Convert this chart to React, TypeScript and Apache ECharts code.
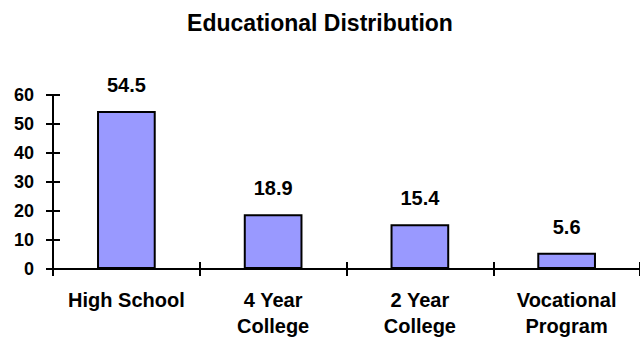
import React, { useEffect, useRef } from "react";
import * as echarts from "echarts";

const categories = ["High School", "4 Year\nCollege", "2 Year\nCollege", "Vocational\nProgram"];
const values = [54.5, 18.9, 15.4, 5.6];
const yTicks = { min: 0, max: 60, interval: 10 };
const titleText = "Educational Distribution";

const FONT = "'Liberation Sans', Arial, Helvetica, sans-serif";

export default function App() {
  const ref = useRef<HTMLDivElement>(null);
  useEffect(() => {
    if (!ref.current) return;
    const chart = echarts.init(ref.current, undefined, { renderer: "svg" });
    const axisLineStyle = { color: "#000", width: 2 };
    chart.setOption({
      animation: false,
      backgroundColor: "#fff",
      title: {
        text: titleText,
        left: "center",
        top: 6,
        textStyle: { fontFamily: FONT, fontWeight: "bold", fontSize: 23, color: "#000" },
      },
      grid: { left: 53, right: -2, top: 95, bottom: 70, containLabel: false },
      xAxis: [
        {
          type: "category",
          data: categories,
          position: "bottom",
          axisLine: { lineStyle: axisLineStyle },
          axisTick: { show: true, length: 7, lineStyle: axisLineStyle, alignWithLabel: false },
          axisLabel: {
            interval: 0,
            margin: 18,
            fontFamily: FONT,
            fontWeight: "bold",
            fontSize: 20,
            lineHeight: 26,
            color: "#000",
          },
          splitLine: { show: false },
        },
        {
          type: "category",
          data: categories,
          position: "bottom",
          axisLine: { show: false },
          axisTick: { show: true, inside: true, length: 7, lineStyle: axisLineStyle },
          axisLabel: { show: false },
          splitLine: { show: false },
        },
      ],
      yAxis: [
        {
          type: "value",
          min: yTicks.min,
          max: yTicks.max,
          interval: yTicks.interval,
          axisLine: { show: true, lineStyle: axisLineStyle },
          axisTick: { show: true, length: 7, lineStyle: axisLineStyle },
          axisLabel: {
            margin: 19,
            fontFamily: FONT,
            fontWeight: "bold",
            fontSize: 18,
            color: "#000",
          },
          splitLine: { show: false },
        },
        {
          type: "value",
          position: "left",
          min: yTicks.min,
          max: yTicks.max,
          interval: yTicks.interval,
          axisLine: { show: false },
          axisTick: { show: true, inside: true, length: 7, lineStyle: axisLineStyle },
          axisLabel: { show: false },
          splitLine: { show: false },
        },
      ],
      series: [
        {
          type: "bar",
          data: values,
          barWidth: "40%",
          itemStyle: { color: "#9999FF", borderColor: "#000", borderWidth: 2 },
          label: {
            show: true,
            position: "top",
            distance: 16,
            fontFamily: FONT,
            fontWeight: "bold",
            fontSize: 20,
            color: "#000",
          },
        },
      ],
    });
    return () => chart.dispose();
  }, []);
  return <div ref={ref} style={{ width: 640, height: 339, position: "absolute", left: 0, top: 0 }} />;
}
